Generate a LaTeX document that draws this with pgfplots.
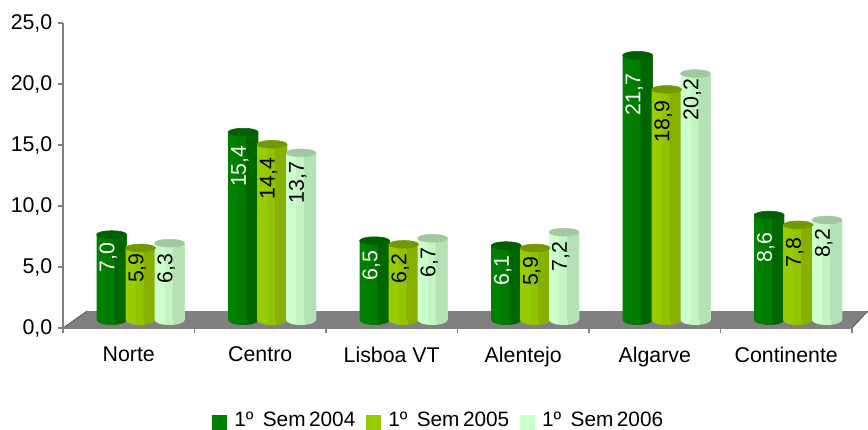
\documentclass[border=0pt]{standalone}
\usepackage{fontspec}
\setmainfont{Liberation Sans}
\usepackage{pgfplots}
\usepackage{pgfplotstable}
\pgfplotsset{compat=1.18}

\definecolor{AxisGray}{HTML}{808080}
\definecolor{SwA}{HTML}{008000}
\definecolor{MidA}{HTML}{007A00}
\definecolor{DrkA}{HTML}{006600}
\definecolor{TopA}{HTML}{005F00}
\definecolor{SwB}{HTML}{99CC00}
\definecolor{MidB}{HTML}{92C300}
\definecolor{DrkB}{HTML}{88B000}
\definecolor{TopB}{HTML}{739900}
\definecolor{SwC}{HTML}{CCFFCC}
\definecolor{MidC}{HTML}{C3F5C3}
\definecolor{DrkC}{HTML}{B5E2B5}
\definecolor{TopC}{HTML}{A2C8A2}

% flat bands for the rounded foot, 25bp = left edge, 75bp = right edge
\pgfdeclarehorizontalshading{cylA}{100bp}{color(0bp)=(SwA); color(41.5bp)=(SwA);
  color(41.51bp)=(MidA); color(55bp)=(MidA); color(55.01bp)=(DrkA); color(100bp)=(DrkA)}
\pgfdeclarehorizontalshading{cylB}{100bp}{color(0bp)=(SwB); color(41.5bp)=(SwB);
  color(41.51bp)=(MidB); color(55bp)=(MidB); color(55.01bp)=(DrkB); color(100bp)=(DrkB)}
\pgfdeclarehorizontalshading{cylC}{100bp}{color(0bp)=(SwC); color(41.5bp)=(SwC);
  color(41.51bp)=(MidC); color(55bp)=(MidC); color(55.01bp)=(DrkC); color(100bp)=(DrkC)}

\pgfdeclareplotmark{topA}{\fill[TopA,rotate=5] (0,0) ellipse [x radius=11.25pt,y radius=2.9pt];}
\pgfdeclareplotmark{topB}{\fill[TopB,rotate=5] (0,0) ellipse [x radius=11.25pt,y radius=2.9pt];}
\pgfdeclareplotmark{topC}{\fill[TopC,rotate=5] (0,0) ellipse [x radius=11.25pt,y radius=2.9pt];}
\newcommand{\footpath}{(-11.25pt,0pt) arc [start angle=180,end angle=360,x radius=11.25pt,y radius=3.75pt] -- cycle}
\pgfdeclareplotmark{baseA}{\shade[draw=none,shading=cylA] \footpath;}
\pgfdeclareplotmark{baseB}{\shade[draw=none,shading=cylB] \footpath;}
\pgfdeclareplotmark{baseC}{\shade[draw=none,shading=cylC] \footpath;}

% x = bar position, y = value, off = gap (px) from top of bar to end of label
\pgfplotstableread{
x    y    off
0.37 7.0  8
1.37 15.4 13
2.37 6.5  10
3.37 6.1  10
4.37 21.7 18
5.37 8.6  17
}\semA
\pgfplotstableread{
x    y    off
0.59 5.9  5
1.59 14.4 13
2.59 6.2  9
3.59 5.9  8
4.59 18.9 11
5.59 7.8  13
}\semB
\pgfplotstableread{
x    y    off
0.81 6.3  10
1.81 13.7 9
2.81 6.7  9
3.81 7.2  9
4.81 20.2 5
5.81 8.2  8
}\semC

\newcommand{\cylseries}[3]{%
  \addplot[forget plot,only marks,mark=base#2,mark options={draw=none}] table[x=x,y expr=0] {#1};
  \addplot[forget plot,ybar,bar width=22.5pt,bar shift=0pt,draw=none,fill=Sw#2] table[x=x,y=y] {#1};
  \addplot[forget plot,ybar,bar width=15pt,bar shift=3.75pt,draw=none,fill=Mid#2] table[x=x,y=y] {#1};
  \addplot[forget plot,ybar,bar width=9pt,bar shift=6.75pt,draw=none,fill=Drk#2] table[x=x,y=y] {#1};
  \addplot[forget plot,only marks,mark=top#2,
    visualization depends on={\thisrow{off} \as \lblgap},
    nodes near coords,
    every node near coord/.append style={text=#3,font=\fontsize{16}{19}\selectfont,
      xshift=-2.5pt,yshift=-\lblgap*0.75pt,rotate=90,anchor=east,inner sep=0pt}]
    table[x=x,y=y] {#1};
  \addlegendimage{legend image code/.code={\fill[Sw#2] (0pt,-12.75pt) rectangle (10.5pt,-2.25pt); \path (14.25pt,0pt);}}
}

\begin{document}
\begin{tikzpicture}
  \path[use as bounding box] (-47.25pt,-75.75pt) rectangle (603.75pt,246pt);
  % floor of the 3D chart, 1px = 0.75pt
  \fill[AxisGray] (0pt,0pt) -- (18pt,12.75pt) -- (603.75pt,12.75pt) -- (591.75pt,0pt) -- cycle;
  \draw[black!70,line width=0.5pt] (0pt,0pt) -- (18pt,12.75pt);
  \draw[black!70,line width=0.5pt] (591.75pt,0pt) -- (603.75pt,12.75pt);
  \begin{axis}[
    scale only axis,width=591.75pt,height=228.75pt,
    xmin=0,xmax=6,ymin=0,ymax=25,
    clip=false,
    axis x line=bottom,axis y line=left,
    axis line style={AxisGray,line width=0.9pt,-},
    tick style={AxisGray,line width=0.9pt},
    tick align=outside,major tick length=4pt,
    xtick={0,...,6},xticklabels={},
    extra x ticks={0.5,1.5,2.5,3.5,4.5,5.5},
    extra x tick labels={Norte,Centro,Lisboa VT,Alentejo,Algarve,Continente},
    extra x tick style={major tick length=0pt,tick style={draw=none}},
    ytick={0,5,...,25},
    tick label style={font=\fontsize{16}{19}\selectfont},
    xticklabel shift=10.75pt,
    yticklabel shift=0.5pt,
    /pgf/number format/.cd,fixed,fixed zerofill,precision=1,use comma,assume math mode=true,
    /pgfplots/.cd,
    every axis plot/.append style={yshift=6pt},
    legend columns=3,
    legend style={at={(0.4766,-0.303)},anchor=center,draw=none,fill=none,
      font=\fontsize{15.6}{18}\selectfont,inner sep=0pt,
      /tikz/every even column/.style={column sep=6pt}},
    legend cell align=left,
  ]
    \cylseries{\semA}{A}{white}
    \cylseries{\semB}{B}{black}
    \cylseries{\semC}{C}{black}
    \addlegendentry{1º\hspace{0.45em}Sem\,2004}
    \addlegendentry{1º\hspace{0.45em}Sem\,2005}
    \addlegendentry{1º\hspace{0.45em}Sem\,2006}
  \end{axis}
\end{tikzpicture}
\end{document}
